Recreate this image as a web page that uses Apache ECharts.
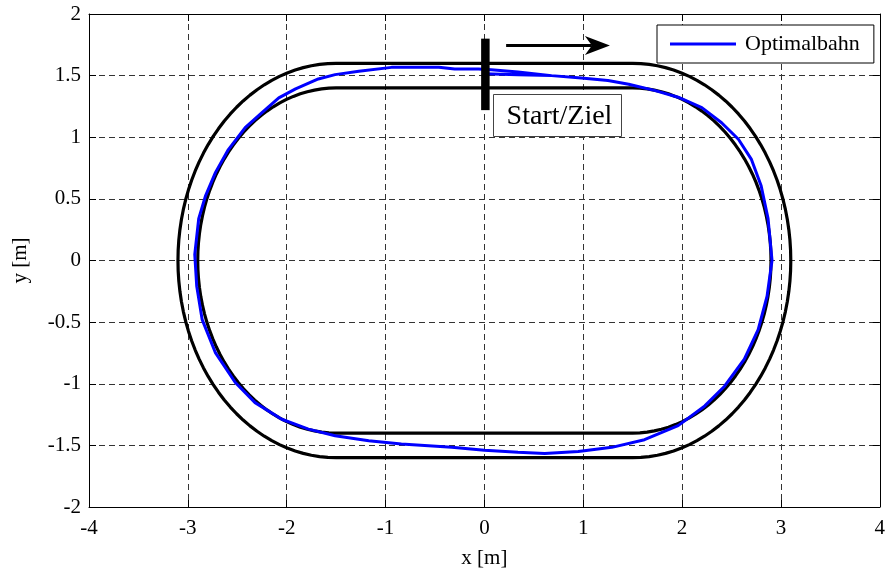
<!DOCTYPE html>
<html>
<head>
<meta charset="utf-8">
<title>Optimalbahn</title>
<script src="https://cdn.jsdelivr.net/npm/echarts@6/dist/echarts.min.js"></script>
<style>
  html, body { margin: 0; padding: 0; background: #fff; }
  #chart { width: 888px; height: 574px; }
</style>
</head>
<body>
<div id="chart"></div>
<script>
// Axis ranges and tick steps [m]
const xRange = [-4, 4];
const xStep = 1;
const yRange = [-2, 2];
const yStep = 0.5;

// Track geometry: straight section ends and lane boundary radii [m]
const bendCentersX = [-1.5, 1.5];
const laneRadii = [1.4, 1.6];

// Optimal path, driven clockwise from the start line [m]
const pathX = [0.00, 0.34, 0.68, 0.98, 1.25, 1.46, 1.72, 1.96, 2.20, 2.40, 2.57, 2.70, 2.80, 2.87, 2.91,
  2.86, 2.77, 2.63, 2.43, 2.23, 1.96, 1.62, 1.29, 0.95, 0.61, 0.34, 0.00, -0.33, -0.84, -1.17, -1.51,
  -1.78, -2.05, -2.32, -2.52, -2.72, -2.855, -2.91, -2.93, -2.89, -2.82, -2.72, -2.59, -2.42, -2.25,
  -2.08, -1.91, -1.68, -1.51, -1.27, -0.94, -0.46, -0.30, -0.06, 0.07, 0.34, 0.68];
const pathY = [1.516, 1.508, 1.500, 1.480, 1.460, 1.430, 1.380, 1.325, 1.240, 1.118, 0.984, 0.823, 0.607, 0.340, 0.000,
  -0.290, -0.560, -0.800, -1.020, -1.180, -1.340, -1.454, -1.516, -1.550, -1.565, -1.556, -1.540, -1.516, -1.489, -1.462, -1.422,
  -1.368, -1.288, -1.153, -0.990, -0.750, -0.480, -0.210, 0.050, 0.340, 0.527, 0.715, 0.900, 1.078, 1.200,
  1.320, 1.393, 1.473, 1.508, 1.535, 1.567, 1.567, 1.554, 1.554, 1.548, 1.530, 1.500];

// Start/finish marker, direction arrow and caption box [m]
const startLineX = [0, 0];
const startLineY = [1.22, 1.80];
const arrowX = [0.22, 1.27];
const arrowY = [1.745, 1.745];
const captionBoxX = [0.09, 1.39];
const captionBoxY = [1.347, 1.008];
const captionText = 'Start/Ziel';
const legendName = 'Optimalbahn';

const FONT = '"Liberation Serif", "Times New Roman", serif';
const PATH_BLUE = '#0000ff';

// Closed stadium outline of radius r around the two bend centres
function stadium(r) {
  const pts = [];
  const [cl, cr] = bendCentersX;
  for (let a = 90; a >= -90; a -= 3) {
    const t = a * Math.PI / 180;
    pts.push([cr + r * Math.cos(t), r * Math.sin(t)]);
  }
  for (let a = 270; a >= 90; a -= 3) {
    const t = a * Math.PI / 180;
    pts.push([cl + r * Math.cos(t), r * Math.sin(t)]);
  }
  pts.push(pts[0]);
  return pts;
}

const pathData = pathX.map((x, i) => [x, pathY[i]]);

const chart = echarts.init(document.getElementById('chart'), null, { renderer: 'canvas' });

const axisCommon = {
  type: 'value',
  axisLine: { show: true, onZero: false, lineStyle: { color: '#000', width: 1 } },
  axisTick: { show: true, inside: true, length: 7, lineStyle: { color: '#000', width: 1 } }
};

const trackSeries = laneRadii.map(r => ({
  type: 'line',
  name: 'lane' + r,
  data: stadium(r),
  showSymbol: false,
  symbol: 'none',
  silent: true,
  color: '#000',
  lineStyle: { color: '#000', width: 3.2 },
  z: 3
}));

chart.setOption({
  animation: false,
  backgroundColor: '#fff',
  grid: { left: 89, right: 7, top: 14, bottom: 64, containLabel: false },
  legend: {
    data: [legendName],
    left: 657,
    top: 25,
    icon: 'rect',
    itemWidth: 66,
    itemHeight: 3,
    padding: [5, 14, 5, 13],
    borderColor: '#000',
    borderWidth: 1,
    backgroundColor: '#fff',
    itemStyle: { color: PATH_BLUE },
    textStyle: { fontFamily: FONT, fontSize: 22, color: '#000', lineHeight: 28, padding: [0, 0, 0, 4] }
  },
  xAxis: [
    Object.assign({}, axisCommon, {
      min: xRange[0], max: xRange[1], interval: xStep,
      position: 'bottom',
      name: 'x [m]', nameLocation: 'middle', nameGap: 41,
      nameTextStyle: { fontFamily: FONT, fontSize: 21, color: '#000' },
      axisLabel: { fontFamily: FONT, fontSize: 21, color: '#000', margin: 11 },
      splitLine: { show: true, lineStyle: { color: '#333', width: 1, type: [6, 4] } }
    }),
    Object.assign({}, axisCommon, {
      min: xRange[0], max: xRange[1], interval: xStep,
      position: 'top',
      axisLabel: { show: false },
      splitLine: { show: false }
    })
  ],
  yAxis: [
    Object.assign({}, axisCommon, {
      min: yRange[0], max: yRange[1], interval: yStep,
      position: 'left',
      name: 'y [m]', nameLocation: 'middle', nameGap: 58,
      nameTextStyle: { fontFamily: FONT, fontSize: 21, color: '#000' },
      axisLabel: { fontFamily: FONT, fontSize: 21, color: '#000', margin: 8 },
      splitLine: { show: true, lineStyle: { color: '#333', width: 1, type: [6, 4] } }
    }),
    Object.assign({}, axisCommon, {
      min: yRange[0], max: yRange[1], interval: yStep,
      position: 'right',
      axisLabel: { show: false },
      splitLine: { show: false }
    })
  ],
  series: trackSeries.concat([
    {
      type: 'line',
      name: legendName,
      data: pathData,
      showSymbol: false,
      symbol: 'none',
      color: PATH_BLUE,
      itemStyle: { color: PATH_BLUE },
      lineStyle: { color: PATH_BLUE, width: 3 },
      z: 4
    },
    {
      // start/finish bar
      type: 'custom',
      name: 'start',
      silent: true,
      z: 6,
      data: [[startLineX[0], startLineY[0], startLineX[1], startLineY[1]]],
      encode: { x: [0, 2], y: [1, 3] },
      renderItem: function (params, api) {
        const p0 = api.coord([api.value(0), api.value(1)]);
        const p1 = api.coord([api.value(2), api.value(3)]);
        return {
          type: 'line',
          shape: { x1: p0[0] + 1, y1: p0[1], x2: p1[0] + 1, y2: p1[1] },
          style: { stroke: '#000', lineWidth: 8.5, lineCap: 'butt' }
        };
      }
    },
    {
      // driving direction arrow
      type: 'custom',
      name: 'arrow',
      silent: true,
      z: 6,
      data: [[arrowX[0], arrowY[0], arrowX[1], arrowY[1]]],
      encode: { x: [0, 2], y: [1, 3] },
      renderItem: function (params, api) {
        const p0 = api.coord([api.value(0), api.value(1)]);
        const p1 = api.coord([api.value(2), api.value(3)]);
        const headLen = 25, halfW = 9.5, notch = 7;
        return {
          type: 'group',
          children: [
            {
              type: 'line',
              shape: { x1: p0[0], y1: p0[1], x2: p1[0] - headLen + notch, y2: p1[1] },
              style: { stroke: '#000', lineWidth: 3 }
            },
            {
              type: 'polygon',
              shape: {
                points: [
                  [p1[0], p1[1]],
                  [p1[0] - headLen, p1[1] - halfW],
                  [p1[0] - headLen + notch, p1[1]],
                  [p1[0] - headLen, p1[1] + halfW]
                ]
              },
              style: { fill: '#000' }
            }
          ]
        };
      }
    },
    {
      // caption box
      type: 'custom',
      name: 'caption',
      silent: true,
      z: 5,
      data: [[captionBoxX[0], captionBoxY[0], captionBoxX[1], captionBoxY[1]]],
      encode: { x: [0, 2], y: [1, 3] },
      renderItem: function (params, api) {
        const p0 = api.coord([api.value(0), api.value(1)]);
        const p1 = api.coord([api.value(2), api.value(3)]);
        const x = Math.round(Math.min(p0[0], p1[0])) + 0.5;
        const y = Math.round(Math.min(p0[1], p1[1])) + 0.5;
        const w = Math.round(Math.abs(p1[0] - p0[0]));
        const h = Math.round(Math.abs(p1[1] - p0[1]));
        return {
          type: 'group',
          children: [
            {
              type: 'rect',
              shape: { x: x, y: y, width: w, height: h },
              style: { fill: '#fff', stroke: '#444', lineWidth: 1 }
            },
            {
              type: 'text',
              style: {
                x: x + w / 2 + 2,
                y: y + h / 2 + 1,
                text: captionText,
                fill: '#000',
                font: '28px ' + FONT,
                align: 'center',
                verticalAlign: 'middle'
              }
            }
          ]
        };
      }
    }
  ])
});
</script>
</body>
</html>
